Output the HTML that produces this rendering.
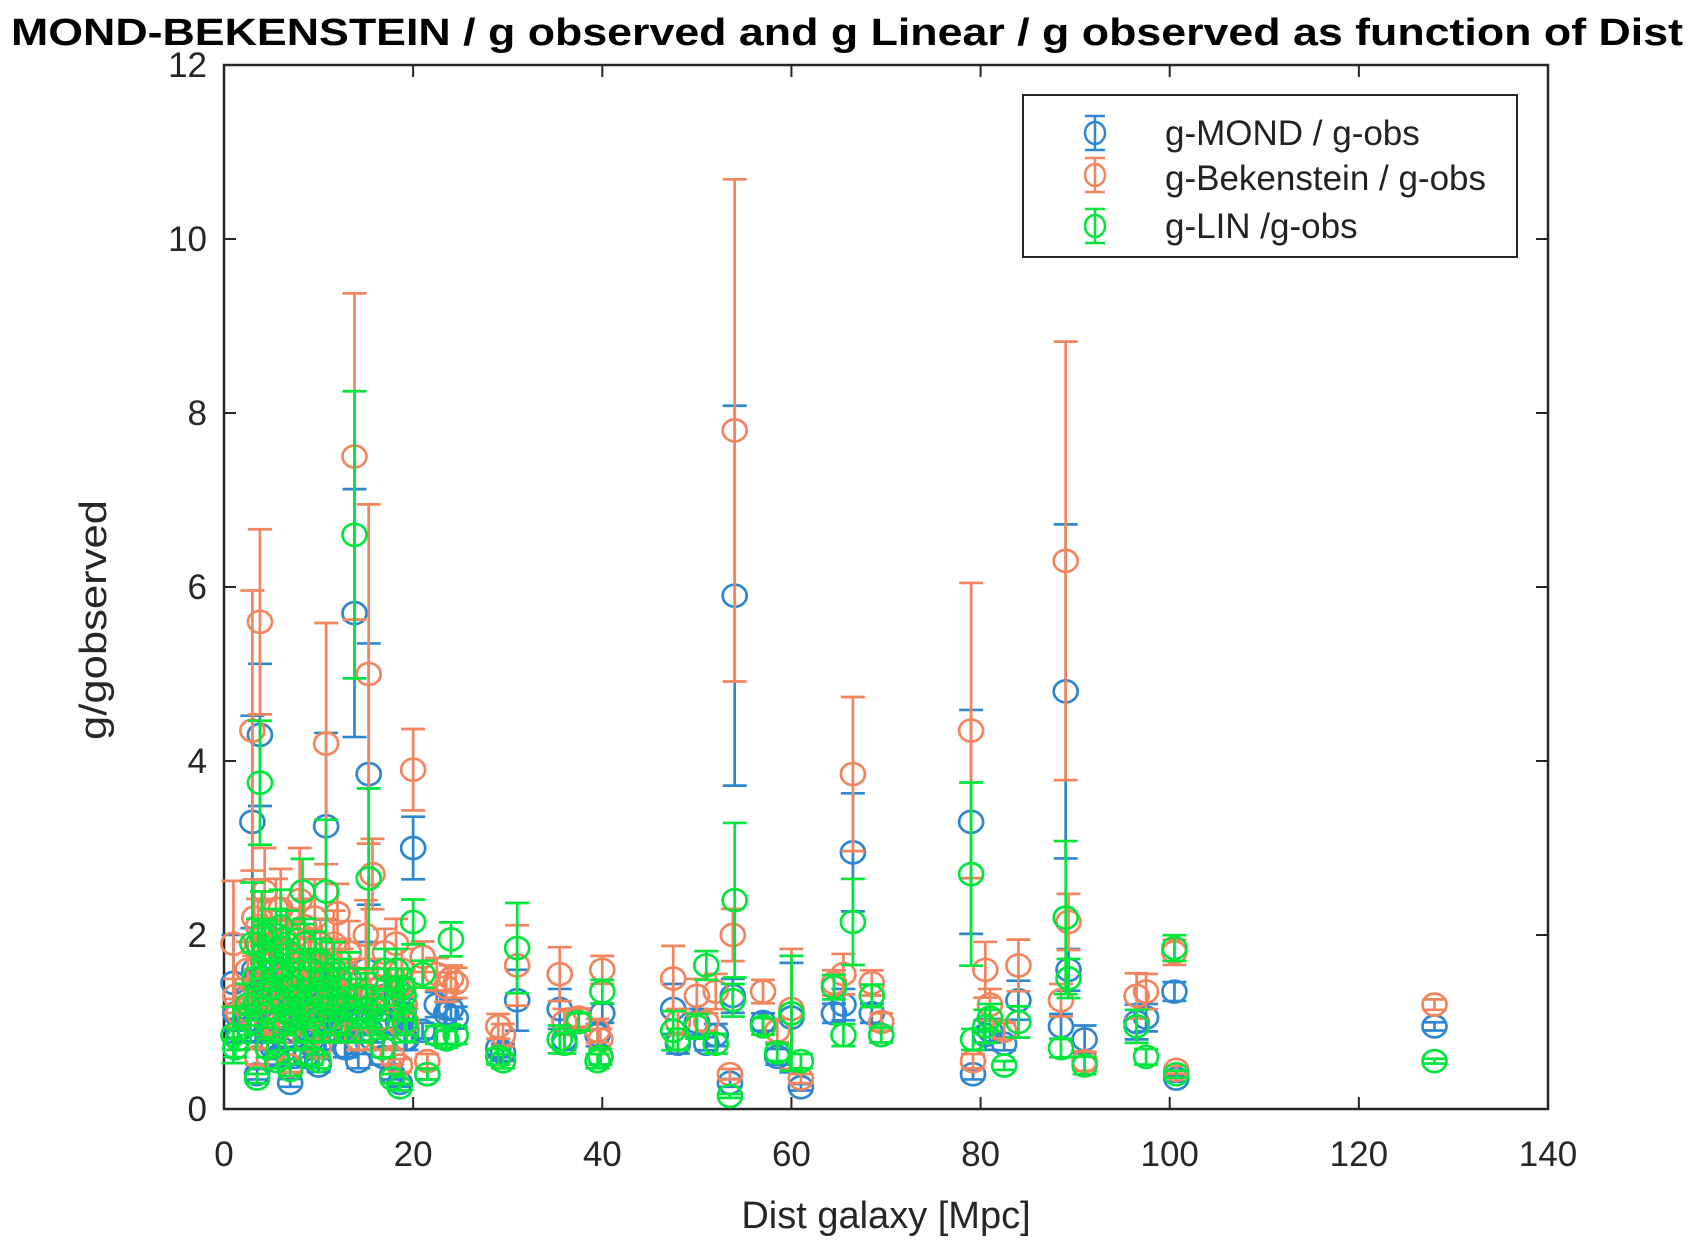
<!DOCTYPE html>
<html><head><meta charset="utf-8">
<style>
html,body{margin:0;padding:0;background:#fff;}
svg{display:block;font-family:"Liberation Sans",sans-serif;}
</style></head>
<body>
<svg id="chart" width="1694" height="1252" viewBox="0 0 1694 1252" xmlns="http://www.w3.org/2000/svg">
<rect width="1694" height="1252" fill="#fff"/>
<text x="847" y="45" text-anchor="middle" font-size="38" font-weight="bold" fill="#000" textLength="1672" lengthAdjust="spacingAndGlyphs">MOND-BEKENSTEIN / g observed and g Linear / g observed as function of Dist</text>
<g id="axes"></g>
<g id="marks"></g>
<text x="886" y="1228" text-anchor="middle" font-size="38" fill="#262626">Dist galaxy [Mpc]</text>
<text transform="translate(106,620) rotate(-90)" text-anchor="middle" font-size="38" fill="#262626" textLength="240" lengthAdjust="spacingAndGlyphs">g/gobserved</text>
<g>
<rect x="1023" y="95" width="494" height="162" fill="#fff" stroke="#262626" stroke-width="2"/>
<g id="legend-marks"></g>
<text x="1165" y="145" font-size="35" fill="#222">g-MOND  / g-obs</text>
<text x="1165" y="190" font-size="35" fill="#222">g-Bekenstein / g-obs</text>
<text x="1165" y="238" font-size="35" fill="#222">g-LIN  /g-obs</text>
</g>
</svg>
<script>
const distX = [1,1.2,1.5,3,3.8,2.5,2.8,3.2,3.5,4,4.3,4.6,5,5.3,5.6,6,6.3,6.6,7,7.3,7.6,8,8.3,8.6,9,9.3,9.6,10,10.4,10.8,11.2,11.6,12,12.4,12.8,13.2,13.8,14.2,14.6,15,15.3,15.7,16.2,16.8,17.3,17.8,18.2,18.6,19,19.3,20,21,21.5,22.5,23.5,24,24.5,29,29.5,31,35.5,36,37.5,39.5,40,39.8,47.5,48,50,51,52,53.5,54,53.8,57,58.5,60,61,64.5,65.5,66.5,68.5,69.5,79,79.2,80.5,81,82.5,84,89,89.3,88.5,91,96.5,97.5,100.5,100.7,128,
3.3,3.6,4.1,4.5,4.9,5.2,5.5,5.8,6.2,6.5,6.9,7.2,7.5,7.9,8.2,8.5,8.9,9.2,9.5,9.9,10.2,10.6,11,11.4,12.2,13,14,15.5,17,18.4,18.8,19.1];
const mondVals = [1.45,1.1,0.9,3.3,4.3,1.3,0.9,1.6,0.4,1.2,2.0,0.8,1.5,1.1,0.6,1.8,1.0,1.4,0.3,1.2,0.9,1.7,1.0,0.6,1.3,0.8,1.5,0.5,1.1,3.25,1.0,1.4,0.9,1.2,0.7,1.3,5.7,0.55,1.0,1.6,3.85,0.8,1.2,0.6,1.0,0.4,1.4,0.3,1.1,0.8,3.0,0.9,0.4,1.2,1.1,1.15,1.05,0.7,0.65,1.25,1.15,0.8,1.0,0.85,1.1,0.6,1.15,0.75,1.0,0.75,0.85,0.3,5.9,1.3,1.0,0.6,1.05,0.25,1.1,1.2,2.95,1.1,0.85,3.3,0.4,0.85,0.9,0.75,1.25,4.8,1.6,0.95,0.8,1.0,1.05,1.35,0.35,0.95,
1.0,1.5,1.2,0.9,1.3,0.7,1.6,1.0,1.3,0.8,1.4,1.1,0.6,1.2,1.0,1.5,0.9,1.3,0.7,1.0,1.4,0.8,1.1,1.0,1.2,0.7,1.0,0.9,1.3,1.0,1.1,0.8];
const bekVals = [1.9,1.3,1.1,4.35,5.6,1.6,1.2,2.2,0.6,1.5,2.5,1.0,1.9,1.4,0.9,2.3,1.3,1.8,0.5,1.6,1.2,2.4,1.4,0.8,1.7,1.1,2.2,0.7,1.5,4.2,1.3,1.9,2.25,1.6,0.9,1.8,7.5,0.8,1.3,2.0,5.0,2.7,1.5,0.8,1.3,0.6,1.9,0.5,1.4,1.0,3.9,1.75,0.55,1.55,1.4,1.5,1.45,0.95,0.85,1.65,1.55,1.0,1.05,0.9,1.6,0.8,1.5,1.0,1.3,1.0,1.35,0.4,7.8,2.0,1.35,0.9,1.15,0.35,1.45,1.55,3.85,1.45,1.0,4.35,0.55,1.6,1.2,0.9,1.65,6.3,2.15,1.25,0.55,1.3,1.35,1.8,0.45,1.2,
1.4,2.1,1.7,1.3,1.9,1.1,2.3,1.5,1.8,1.2,2.0,1.6,1.0,1.7,1.4,2.1,1.3,1.8,1.1,1.5,1.9,1.2,1.6,1.4,1.7,1.1,1.5,1.3,1.8,1.4,1.6,1.2];
const linVals = [0.85,0.7,0.8,1.9,3.75,1.2,1.0,1.5,0.35,2.0,1.8,0.7,1.4,1.6,0.55,2.1,1.2,1.9,0.45,1.1,0.8,1.3,2.5,0.9,1.5,0.6,1.7,0.55,1.3,2.5,0.9,1.6,1.4,1.0,1.2,1.5,6.6,1.1,0.9,1.3,2.65,1.2,1.0,0.7,1.4,0.35,1.6,0.25,1.3,0.9,2.15,1.55,0.4,0.85,0.8,1.95,0.85,0.6,0.55,1.85,0.8,0.75,1.0,0.55,1.35,0.6,0.9,0.8,0.95,1.65,0.75,0.15,2.4,1.25,0.95,0.65,1.1,0.55,1.4,0.85,2.15,1.3,0.85,2.7,0.8,0.95,1.05,0.5,1.0,2.2,1.5,0.7,0.5,0.95,0.6,1.85,0.4,0.55,
1.2,1.9,1.5,1.1,1.7,0.9,2.0,1.3,1.6,1.0,1.8,1.4,0.8,1.5,1.2,1.9,1.1,1.6,0.9,1.3,1.7,1.0,1.4,1.2,1.5,0.9,1.3,1.1,1.6,1.2,1.4,1.0];
const relErr = [0.38,0.15,0.15,0.37,0.19,0.2,0.15,0.2,0.15,0.25,0.2,0.15,0.2,0.15,0.15,0.2,0.15,0.2,0.15,0.15,0.15,0.25,0.15,0.15,0.2,0.15,0.2,0.15,0.15,0.33,0.15,0.2,0.15,0.15,0.15,0.2,0.25,0.15,0.15,0.2,0.39,0.15,0.15,0.15,0.15,0.15,0.15,0.15,0.15,0.15,0.12,0.1,0.15,0.12,0.12,0.1,0.12,0.15,0.15,0.28,0.2,0.15,0.1,0.15,0.1,0.15,0.25,0.15,0.15,0.1,0.15,0.15,0.37,0.15,0.1,0.15,0.6,0.15,0.1,0.15,0.23,0.1,0.1,0.39,0.15,0.2,0.15,0.1,0.18,0.4,0.15,0.15,0.2,0.2,0.15,0.08,0.1,0.05,
0.15,0.15,0.15,0.15,0.15,0.15,0.15,0.15,0.15,0.15,0.15,0.15,0.15,0.15,0.15,0.15,0.15,0.15,0.15,0.15,0.15,0.15,0.15,0.15,0.15,0.15,0.15,0.15,0.15,0.15,0.15,0.15];
const xTicks = [0,20,40,60,80,100,120,140];
const yTicks = [0,2,4,6,8,10,12];

const NS = "http://www.w3.org/2000/svg";
const L = 224, R = 1548, T = 65, B = 1109;
const xs = v => L + (v - 0) / 140 * (R - L);
const ys = v => B - (v - 0) / 12 * (B - T);
function mk(tag, attrs, parent) {
  const e = document.createElementNS(NS, tag);
  for (const k in attrs) e.setAttribute(k, attrs[k]);
  parent.appendChild(e);
  return e;
}
const axes = document.getElementById('axes');
const frame = mk('rect', {x: L, y: T, width: R - L, height: B - T, fill: 'none', stroke: '#262626', 'stroke-width': 2.5}, axes);


xTicks.forEach(t => {
  const x = xs(t);
  mk('line', {x1: x, x2: x, y1: B, y2: B - 12, stroke: '#262626', 'stroke-width': 2}, axes);
  mk('line', {x1: x, x2: x, y1: T, y2: T + 12, stroke: '#262626', 'stroke-width': 2}, axes);
  const lb = mk('text', {x: x, y: 1166, 'text-anchor': 'middle', 'font-size': 35, fill: '#262626'}, axes);
  lb.textContent = t;
  
  
});
yTicks.forEach(t => {
  const y = ys(t);
  mk('line', {x1: L, x2: L + 12, y1: y, y2: y, stroke: '#262626', 'stroke-width': 2}, axes);
  mk('line', {x1: R, x2: R - 12, y1: y, y2: y, stroke: '#262626', 'stroke-width': 2}, axes);
  const lb = mk('text', {x: 207, y: y + 12, 'text-anchor': 'end', 'font-size': 35, fill: '#262626'}, axes);
  lb.textContent = t;
  
  
});
const marks = document.getElementById('marks');
function drawSeries(vals, color, name) {
  const g = mk('g', {stroke: color, 'stroke-width': 2.7, fill: 'none'}, marks);
  
  
  vals.forEach((v, i) => {
    const x = xs(distX[i]);
    const e = v * relErr[i];
    const y1 = ys(v + e), y2 = ys(Math.max(0, v - e));
    mk('line', {x1: x, x2: x, y1: y1, y2: y2}, g);
    mk('line', {x1: x - 12, x2: x + 12, y1: y1, y2: y1}, g);
    mk('line', {x1: x - 12, x2: x + 12, y1: y2, y2: y2}, g);
    const c = mk('ellipse', {cx: x, cy: ys(v), rx: 12, ry: 11}, g);
    
    
  });
}
drawSeries(mondVals, '#2f86d0', 'mond');
drawSeries(bekVals, '#f2855e', 'bekenstein');
drawSeries(linVals, '#00e63c', 'lin');
const lm = document.getElementById('legend-marks');
[['#2f86d0', 133], ['#f2855e', 175], ['#00e63c', 226]].forEach(([c, y]) => {
  const g = mk('g', {stroke: c, 'stroke-width': 2.5, fill: 'none'}, lm);
  
  
  mk('line', {x1: 1095, x2: 1095, y1: y - 17, y2: y + 17}, g);
  mk('line', {x1: 1085, x2: 1105, y1: y - 17, y2: y - 17}, g);
  mk('line', {x1: 1085, x2: 1105, y1: y + 17, y2: y + 17}, g);
  mk('ellipse', {cx: 1095, cy: y, rx: 10, ry: 11}, g);
});
</script>
</body></html>
